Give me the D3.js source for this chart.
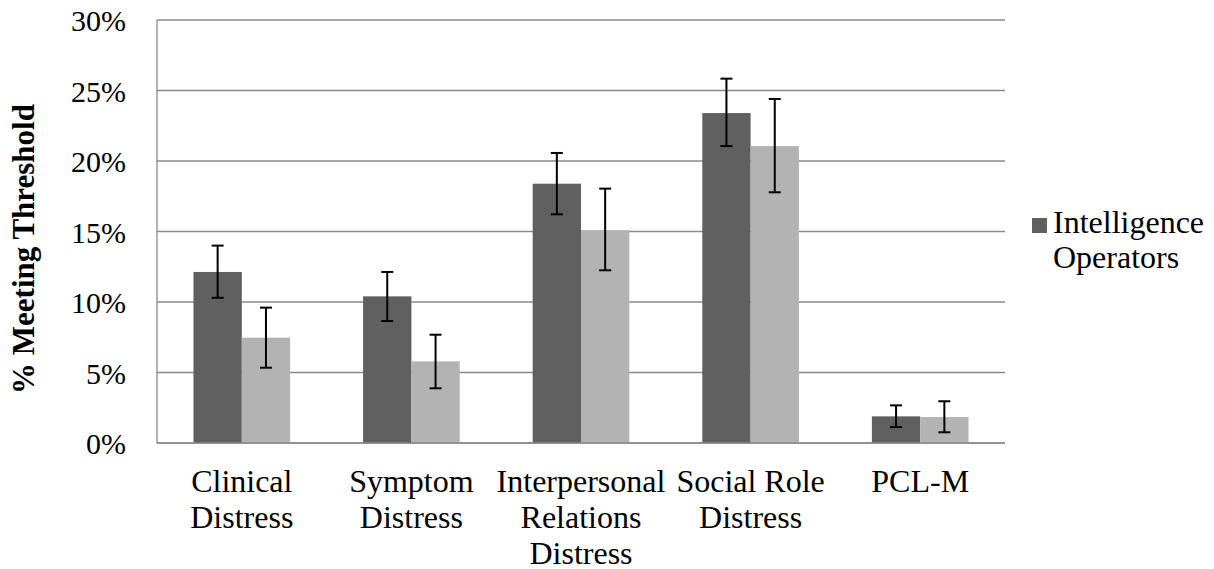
<!DOCTYPE html>
<html>
<head>
<meta charset="utf-8">
<script src="https://cdn.jsdelivr.net/npm/d3@7"></script>
<style>
  html, body { margin: 0; padding: 0; background: #fff; }
  svg text { font-family: "Liberation Serif", "Times New Roman", serif; fill: #000; }
</style>
</head>
<body>
<svg id="chart" width="1214" height="569"></svg>
<script>
// ---- data ----
const categories = [
  ["Clinical", "Distress"],
  ["Symptom", "Distress"],
  ["Interpersonal", "Relations", "Distress"],
  ["Social Role", "Distress"],
  ["PCL-M"]
];
const seriesNames = ["Intelligence Operators", "Comparison"];
const operatorsValues = [12.13, 10.4, 18.39, 23.4, 1.89];
const operatorsLower  = [10.3, 8.65, 16.22, 21.06, 1.13];
const operatorsUpper  = [14.0, 12.13, 20.57, 25.84, 2.67];
const comparisonValues = [7.47, 5.79, 15.1, 21.06, 1.84];
const comparisonLower  = [5.34, 3.88, 12.25, 17.78, 0.76];
const comparisonUpper  = [9.6, 7.68, 18.04, 24.4, 2.96];
const yTicks = [0, 5, 10, 15, 20, 25, 30];
const legendLabel = ["Intelligence", "Operators"];
const yTitle = "% Meeting Threshold";

// ---- layout ----
const svg = d3.select("#chart");
const plot = { left: 157, right: 1005, top: 20, bottom: 443 };
const colors = { "Intelligence Operators": "#606060", "Comparison": "#b3b3b3" };
const gridColor = "#8a8a8a";

const catKeys = categories.map(c => c.join(" "));
const x0 = d3.scaleBand().domain(catKeys).range([plot.left, plot.right]).paddingInner(0).paddingOuter(0);
const x1 = d3.scaleBand().domain(seriesNames).range([0, x0.bandwidth()]).paddingInner(0).paddingOuter(0.755);
const y = d3.scaleLinear().domain([0, 30]).range([plot.bottom, plot.top]);

const series = [
  { name: seriesNames[0], values: operatorsValues, lo: operatorsLower, hi: operatorsUpper },
  { name: seriesNames[1], values: comparisonValues, lo: comparisonLower, hi: comparisonUpper }
];

// gridlines
svg.append("g").selectAll("line").data(yTicks).join("line")
  .attr("x1", plot.left).attr("x2", plot.right)
  .attr("y1", d => y(d)).attr("y2", d => y(d))
  .attr("stroke", gridColor).attr("stroke-width", 1.3);

// left axis line
svg.append("line")
  .attr("x1", plot.left).attr("x2", plot.left)
  .attr("y1", y(30)).attr("y2", y(0))
  .attr("stroke", gridColor).attr("stroke-width", 1.3);

// y axis labels via d3 axis
const yAxis = d3.axisLeft(y).tickValues(yTicks).tickFormat(d => d + "%").tickSize(0).tickPadding(0);
const gy = svg.append("g").attr("transform", `translate(126,0)`).call(yAxis);
gy.select(".domain").remove();
gy.selectAll("text")
  .style("font-size", "30px")
  .attr("font-family", "Liberation Serif, Times New Roman, serif")
  .attr("fill", "#000")
  .attr("dy", "0.36em");

// bars
const data = [];
series.forEach(s => s.values.forEach((v, i) => data.push({ cat: catKeys[i], name: s.name, v, lo: s.lo[i], hi: s.hi[i] })));

svg.append("g").selectAll("rect").data(data).join("rect")
  .attr("x", d => x0(d.cat) + x1(d.name))
  .attr("width", x1.bandwidth())
  .attr("y", d => y(d.v))
  .attr("height", d => y(0) - y(d.v))
  .attr("fill", d => colors[d.name]);

// bottom axis line (over bars)
svg.append("line")
  .attr("x1", plot.left).attr("x2", plot.right)
  .attr("y1", y(0)).attr("y2", y(0))
  .attr("stroke", gridColor).attr("stroke-width", 1.3);

// error bars
const capW = 6;
const eg = svg.append("g").attr("stroke", "#000").attr("stroke-width", 2);
data.forEach(d => {
  const cx = x0(d.cat) + x1(d.name) + x1.bandwidth() / 2;
  eg.append("line").attr("x1", cx).attr("x2", cx).attr("y1", y(d.hi)).attr("y2", y(d.lo));
  eg.append("line").attr("x1", cx - capW).attr("x2", cx + capW).attr("y1", y(d.hi)).attr("y2", y(d.hi));
  eg.append("line").attr("x1", cx - capW).attr("x2", cx + capW).attr("y1", y(d.lo)).attr("y2", y(d.lo));
});

// category labels
const lab = svg.append("g");
categories.forEach((lines, i) => {
  const cx = x0(catKeys[i]) + x0.bandwidth() / 2;
  const t = lab.append("text").attr("text-anchor", "middle").style("font-size", "32px");
  lines.forEach((ln, j) => {
    t.append("tspan").attr("x", cx).attr("y", 492 + j * 35.8).text(ln);
  });
});

// y axis title
svg.append("text")
  .attr("transform", `translate(33.5,249) rotate(-90)`)
  .attr("text-anchor", "middle")
  .style("font-size", "31px")
  .style("font-weight", "bold")
  .text(yTitle);

// legend
svg.append("rect").attr("x", 1032).attr("y", 218).attr("width", 15).attr("height", 15)
  .attr("fill", colors[seriesNames[0]]);
const lt = svg.append("text").style("font-size", "32px");
legendLabel.forEach((ln, j) => {
  lt.append("tspan").attr("x", 1053).attr("y", 233 + j * 35).text(ln);
});
</script>
</body>
</html>
